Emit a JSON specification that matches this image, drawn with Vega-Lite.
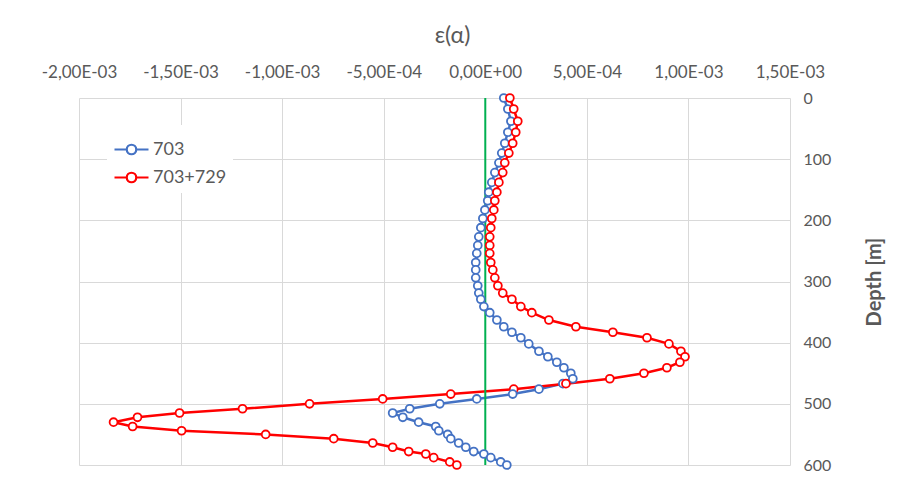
{
  "$schema": "https://vega.github.io/schema/vega-lite/v6.json",
  "width": 711,
  "height": 367,
  "autosize": "none",
  "padding": {"left": 79, "top": 98, "right": 113, "bottom": 19},
  "background": "white",
  "config": {
    "view": {"stroke": null},
    "font": "Lato",
    "axis": {
      "grid": true,
      "gridColor": "#d9d9d9",
      "gridWidth": 1,
      "domain": false,
      "ticks": false,
      "labelColor": "#595959",
      "labelFont": "Lato",
      "titleColor": "#595959",
      "titleFont": "Lato"
    }
  },
  "datasets": {
    "zero": [{"x": 0, "d0": 0, "d1": 600}]
  },
  "data": {
    "values": [
      {"s": "703", "d": 0, "e": 0.000091},
      {"s": "703", "d": 18, "e": 0.000111},
      {"s": "703", "d": 38, "e": 0.000126},
      {"s": "703", "d": 56, "e": 0.000111},
      {"s": "703", "d": 74, "e": 0.000096},
      {"s": "703", "d": 90, "e": 0.000081},
      {"s": "703", "d": 106, "e": 0.000067},
      {"s": "703", "d": 122, "e": 0.000047},
      {"s": "703", "d": 138, "e": 0.000032},
      {"s": "703", "d": 154, "e": 0.000017},
      {"s": "703", "d": 168, "e": 0.000012},
      {"s": "703", "d": 183, "e": -0.000002},
      {"s": "703", "d": 197, "e": -0.000012},
      {"s": "703", "d": 212, "e": -0.000022},
      {"s": "703", "d": 227, "e": -0.000032},
      {"s": "703", "d": 241, "e": -0.000037},
      {"s": "703", "d": 254, "e": -0.000042},
      {"s": "703", "d": 269, "e": -0.000047},
      {"s": "703", "d": 281, "e": -0.000047},
      {"s": "703", "d": 294, "e": -0.000047},
      {"s": "703", "d": 307, "e": -0.000037},
      {"s": "703", "d": 319, "e": -0.000032},
      {"s": "703", "d": 329, "e": -0.000022},
      {"s": "703", "d": 341, "e": -0.000007},
      {"s": "703", "d": 351, "e": 0.000022},
      {"s": "703", "d": 363, "e": 0.000057},
      {"s": "703", "d": 374, "e": 0.000091},
      {"s": "703", "d": 383, "e": 0.000131},
      {"s": "703", "d": 392, "e": 0.000175},
      {"s": "703", "d": 402, "e": 0.000214},
      {"s": "703", "d": 414, "e": 0.000264},
      {"s": "703", "d": 423, "e": 0.000308},
      {"s": "703", "d": 432, "e": 0.000352},
      {"s": "703", "d": 441, "e": 0.000387},
      {"s": "703", "d": 450, "e": 0.000421},
      {"s": "703", "d": 459, "e": 0.000431},
      {"s": "703", "d": 467, "e": 0.000382},
      {"s": "703", "d": 476, "e": 0.000264},
      {"s": "703", "d": 484, "e": 0.000135},
      {"s": "703", "d": 492, "e": -0.000042},
      {"s": "703", "d": 500, "e": -0.000224},
      {"s": "703", "d": 508, "e": -0.000372},
      {"s": "703", "d": 515, "e": -0.000456},
      {"s": "703", "d": 522, "e": -0.000406},
      {"s": "703", "d": 530, "e": -0.000328},
      {"s": "703", "d": 537, "e": -0.000244},
      {"s": "703", "d": 544, "e": -0.000229},
      {"s": "703", "d": 550, "e": -0.000185},
      {"s": "703", "d": 557, "e": -0.00017},
      {"s": "703", "d": 564, "e": -0.000131},
      {"s": "703", "d": 571, "e": -0.000096},
      {"s": "703", "d": 578, "e": -0.000057},
      {"s": "703", "d": 582, "e": -0.000007},
      {"s": "703", "d": 588, "e": 0.000027},
      {"s": "703", "d": 595, "e": 0.000076},
      {"s": "703", "d": 600, "e": 0.000106},
      {"s": "703+729", "d": 0, "e": 0.000121},
      {"s": "703+729", "d": 18, "e": 0.00014},
      {"s": "703+729", "d": 38, "e": 0.00016},
      {"s": "703+729", "d": 56, "e": 0.00015},
      {"s": "703+729", "d": 74, "e": 0.000135},
      {"s": "703+729", "d": 90, "e": 0.000116},
      {"s": "703+729", "d": 106, "e": 0.000096},
      {"s": "703+729", "d": 122, "e": 0.000086},
      {"s": "703+729", "d": 138, "e": 0.000067},
      {"s": "703+729", "d": 154, "e": 0.000057},
      {"s": "703+729", "d": 168, "e": 0.000047},
      {"s": "703+729", "d": 183, "e": 0.000042},
      {"s": "703+729", "d": 197, "e": 0.000032},
      {"s": "703+729", "d": 212, "e": 0.000027},
      {"s": "703+729", "d": 227, "e": 0.000022},
      {"s": "703+729", "d": 241, "e": 0.000022},
      {"s": "703+729", "d": 254, "e": 0.000022},
      {"s": "703+729", "d": 269, "e": 0.000027},
      {"s": "703+729", "d": 281, "e": 0.000037},
      {"s": "703+729", "d": 294, "e": 0.000047},
      {"s": "703+729", "d": 307, "e": 0.000062},
      {"s": "703+729", "d": 319, "e": 0.000086},
      {"s": "703+729", "d": 329, "e": 0.000131},
      {"s": "703+729", "d": 341, "e": 0.000175},
      {"s": "703+729", "d": 351, "e": 0.000229},
      {"s": "703+729", "d": 363, "e": 0.000313},
      {"s": "703+729", "d": 374, "e": 0.000446},
      {"s": "703+729", "d": 383, "e": 0.000628},
      {"s": "703+729", "d": 392, "e": 0.000796},
      {"s": "703+729", "d": 402, "e": 0.000904},
      {"s": "703+729", "d": 414, "e": 0.000963},
      {"s": "703+729", "d": 423, "e": 0.000983},
      {"s": "703+729", "d": 432, "e": 0.000958},
      {"s": "703+729", "d": 441, "e": 0.000894},
      {"s": "703+729", "d": 450, "e": 0.000781},
      {"s": "703+729", "d": 459, "e": 0.000613},
      {"s": "703+729", "d": 467, "e": 0.000397},
      {"s": "703+729", "d": 476, "e": 0.00014},
      {"s": "703+729", "d": 484, "e": -0.00017},
      {"s": "703+729", "d": 492, "e": -0.000505},
      {"s": "703+729", "d": 500, "e": -0.000865},
      {"s": "703+729", "d": 508, "e": -0.001195},
      {"s": "703+729", "d": 515, "e": -0.001505},
      {"s": "703+729", "d": 522, "e": -0.001712},
      {"s": "703+729", "d": 530, "e": -0.00183},
      {"s": "703+729", "d": 537, "e": -0.001736},
      {"s": "703+729", "d": 544, "e": -0.001495},
      {"s": "703+729", "d": 550, "e": -0.001081},
      {"s": "703+729", "d": 557, "e": -0.000746},
      {"s": "703+729", "d": 564, "e": -0.000554},
      {"s": "703+729", "d": 571, "e": -0.000456},
      {"s": "703+729", "d": 578, "e": -0.000377},
      {"s": "703+729", "d": 582, "e": -0.000293},
      {"s": "703+729", "d": 588, "e": -0.000254},
      {"s": "703+729", "d": 595, "e": -0.000175},
      {"s": "703+729", "d": 600, "e": -0.00014}
    ]
  },
  "encoding": {
    "x": {
      "field": "e",
      "type": "quantitative",
      "scale": {"domain": [-0.002, 0.0015], "nice": false, "zero": false},
      "axis": {
        "orient": "top",
        "values": [-0.002, -0.0015, -0.001, -0.0005, 0, 0.0005, 0.001, 0.0015],
        "labelExpr": "(datum.value < 0 ? '-' : '') + replace(replace(replace(format(abs(datum.value), '.2e'), '.', ','), 'e-', 'E-0'), 'e+', 'E+0')",
        "labelFontSize": 17,
        "labelOverlap": false,
        "labelBound": false,
        "labelFlush": false,
        "labelPadding": 17,
        "title": "ε(α)",
        "titleFontSize": 23,
        "titleFontWeight": "normal",
        "titlePadding": 16,
        "titleX": 373
      }
    },
    "y": {
      "field": "d",
      "type": "quantitative",
      "scale": {"domain": [0, 600], "reverse": true, "nice": false},
      "axis": {
        "orient": "right",
        "values": [0, 100, 200, 300, 400, 500, 600],
        "labelFontSize": 16,
        "labelPadding": 13,
        "labelOverlap": false,
        "labelFlush": false,
        "title": "Depth [m]",
        "titleFontSize": 20,
        "titleFontWeight": "bold",
        "titleAngle": 270,
        "titlePadding": 54
      }
    },
    "stroke": {
      "field": "s",
      "type": "nominal",
      "scale": {"domain": ["703", "703+729"], "range": ["#4472C4", "#FF0000"]},
      "legend": {
        "orient": "none",
        "legendX": 28,
        "legendY": 27,
        "title": null,
        "symbolType": "M-1,0H-0.28M0.28,0H1M-0.28,0A0.28,0.28,0,1,1,0.28,0A0.28,0.28,0,1,1,-0.28,0Z",
        "symbolSize": 1156,
        "symbolStrokeWidth": 2.2,
        "symbolFillColor": "white",
        "labelFontSize": 18,
        "labelColor": "#595959",
        "labelFont": "Lato",
        "fillColor": "white",
        "padding": 6,
        "rowPadding": 0,
        "labelOffset": 3
      }
    },
    "order": {"field": "d", "type": "quantitative"}
  },
  "layer": [
    {"mark": {"type": "line", "strokeWidth": 2.5}},
    {
      "data": {"name": "zero"},
      "mark": {"type": "rule", "color": "#00B050", "strokeWidth": 2},
      "encoding": {
        "x": {"field": "x", "type": "quantitative"},
        "y": {"field": "d0", "type": "quantitative"},
        "y2": {"field": "d1"},
        "stroke": {"value": "#00B050"},
        "order": null
      }
    },
    {"mark": {"type": "point", "filled": true, "fill": "white", "size": 62, "strokeWidth": 1.8, "opacity": 1}}
  ]
}
